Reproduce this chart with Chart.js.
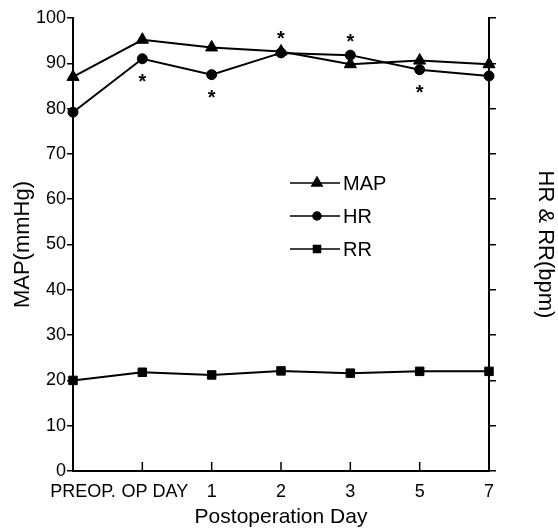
<!DOCTYPE html>
<html>
<head>
<meta charset="utf-8">
<script src="https://cdn.jsdelivr.net/npm/chart.js@4.4.0/dist/chart.umd.min.js"></script>
<style>
  html, body { margin: 0; padding: 0; background: #fff; }
  #wrap { width: 558px; height: 530px; }
</style>
</head>
<body>
<div id="wrap"><canvas id="chart" width="558" height="530"></canvas></div>
<script>
const days = ['PREOP.', 'OP DAY', '1', '2', '3', '5', '7'];
const mapValues = [87, 95.2, 93.5, 92.6, 89.8, 90.6, 89.8];
const hrValues = [79.2, 91, 87.5, 92.3, 91.8, 88.6, 87.2];
const rrValues = [20, 21.8, 21.2, 22.1, 21.6, 22, 22];

// significant differences (*): series, day, above or below the point
const sigSeries = ['MAP', 'HR', 'HR', 'HR', 'HR'];
const sigDays = ['2', 'OP DAY', '1', '3', '5'];
const sigSide = ['above', 'below', 'below', 'above', 'below'];

const FONT = "'Liberation Sans', Arial, Helvetica, sans-serif";

// x軸の目盛りは内側（上向き）
const innerTicks = {
    id: 'innerTicks',
    afterDraw(chart) {
        const ctx = chart.ctx;
        const x = chart.scales.x;
        ctx.save();
        ctx.strokeStyle = '#000';
        ctx.lineWidth = 1.5;
        x.ticks.forEach((t, i) => {
            const px = x.getPixelForTick(i);
            ctx.beginPath();
            ctx.moveTo(px, x.top);
            ctx.lineTo(px, x.top - 9);
            ctx.stroke();
        });
        ctx.restore();
    }
};

const stars = {
    id: 'stars',
    afterDatasetsDraw(chart) {
        const ctx = chart.ctx;
        ctx.save();
        ctx.fillStyle = '#000';
        ctx.font = 'bold 20px ' + FONT;
        ctx.textAlign = 'center';
        ctx.textBaseline = 'alphabetic';
        sigSeries.forEach((name, k) => {
            const di = chart.data.datasets.findIndex(d => d.label === name);
            const ci = days.indexOf(sigDays[k]);
            const pt = chart.getDatasetMeta(di).data[ci];
            const cy = pt.y + (sigSide[k] === 'above' ? -18 : 18);
            ctx.fillText('*', pt.x, cy + 11);
        });
        ctx.restore();
    }
};

// 凡例はグラフの中に描く
const innerLegend = {
    id: 'innerLegend',
    afterDraw(chart) {
        const ctx = chart.ctx;
        ctx.save();
        chart.data.datasets.forEach((ds, i) => {
            const y = 183 + i * 33;
            ctx.strokeStyle = '#000';
            ctx.lineWidth = 1.5;
            ctx.beginPath();
            ctx.moveTo(290, y);
            ctx.lineTo(340, y);
            ctx.stroke();
            ctx.fillStyle = '#000';
            Chart.helpers.drawPoint(ctx, {
                pointStyle: ds.pointStyle,
                radius: ds.pointRadius - 1,
                rotation: 0,
                borderWidth: 1
            }, 317, y);
            ctx.font = '20px ' + FONT;
            ctx.textAlign = 'left';
            ctx.textBaseline = 'middle';
            ctx.fillText(ds.label, 343, y + 1);
        });
        ctx.restore();
    }
};

const line = (label, data, style, radius, axis) => ({
    label: label,
    data: data,
    yAxisID: axis,
    borderColor: '#000',
    backgroundColor: '#000',
    borderWidth: 2,
    pointStyle: style,
    pointRadius: radius,
    pointBorderWidth: 1,
    pointBackgroundColor: '#000',
    pointBorderColor: '#000',
    tension: 0,
    clip: false
});

const axisBorder = { display: true, color: '#000', width: 2 };

new Chart(document.getElementById('chart').getContext('2d'), {
    type: 'line',
    data: {
        labels: days,
        datasets: [
            line('MAP', mapValues, 'triangle', 7, 'y'),
            line('HR', hrValues, 'circle', 5, 'y1'),
            line('RR', rrValues, 'rect', 6, 'y1')
        ]
    },
    options: {
        responsive: false,
        animation: false,
        layout: { padding: { top: 18, left: 10, right: 0, bottom: 0 } },
        plugins: {
            legend: { display: false },
            tooltip: { enabled: false }
        },
        scales: {
            x: {
                type: 'category',
                offset: false,
                grid: { display: true, drawOnChartArea: false, drawTicks: false },
                border: axisBorder,
                ticks: {
                    color: '#000',
                    font: { family: FONT, size: 18 },
                    padding: 10,
                    autoSkip: false,
                    maxRotation: 0,
                    // PREOP. と OP DAY は少し右寄せ
                    callback: (v, i) => ['    ', '     ', '', '', '', '', ''][i] + days[i]
                },
                title: {
                    display: true,
                    text: 'Postoperation Day',
                    color: '#000',
                    font: { family: FONT, size: 21 },
                    padding: { top: 0, bottom: 0 }
                },
                afterFit: s => { s.height = 59; }
            },
            y: {
                position: 'left',
                min: 0,
                max: 100,
                grid: { drawOnChartArea: false, drawTicks: true, tickLength: 6, color: '#000', lineWidth: 1.5 },
                border: axisBorder,
                ticks: {
                    stepSize: 10,
                    color: '#000',
                    padding: 1,
                    font: { family: FONT, size: 18 }
                },
                title: {
                    display: true,
                    text: 'MAP(mmHg)',
                    color: '#000',
                    font: { family: FONT, size: 22 },
                    padding: { top: 0, bottom: 0 }
                },
                afterFit: s => { s.width = 63; }
            },
            y1: {
                position: 'right',
                min: 0,
                max: 100,
                grid: { drawOnChartArea: false, drawTicks: true, tickLength: 7, color: '#000', lineWidth: 1.5 },
                border: axisBorder,
                ticks: {
                    stepSize: 10,
                    padding: 0,
                    callback: () => ''
                },
                title: {
                    display: true,
                    text: 'HR & RR(bpm)',
                    color: '#000',
                    font: { family: FONT, size: 22 },
                    padding: { top: 0, bottom: 3 }
                },
                afterFit: s => { s.width = 69; }
            }
        }
    },
    plugins: [innerTicks, stars, innerLegend]
});
</script>
</body>
</html>
